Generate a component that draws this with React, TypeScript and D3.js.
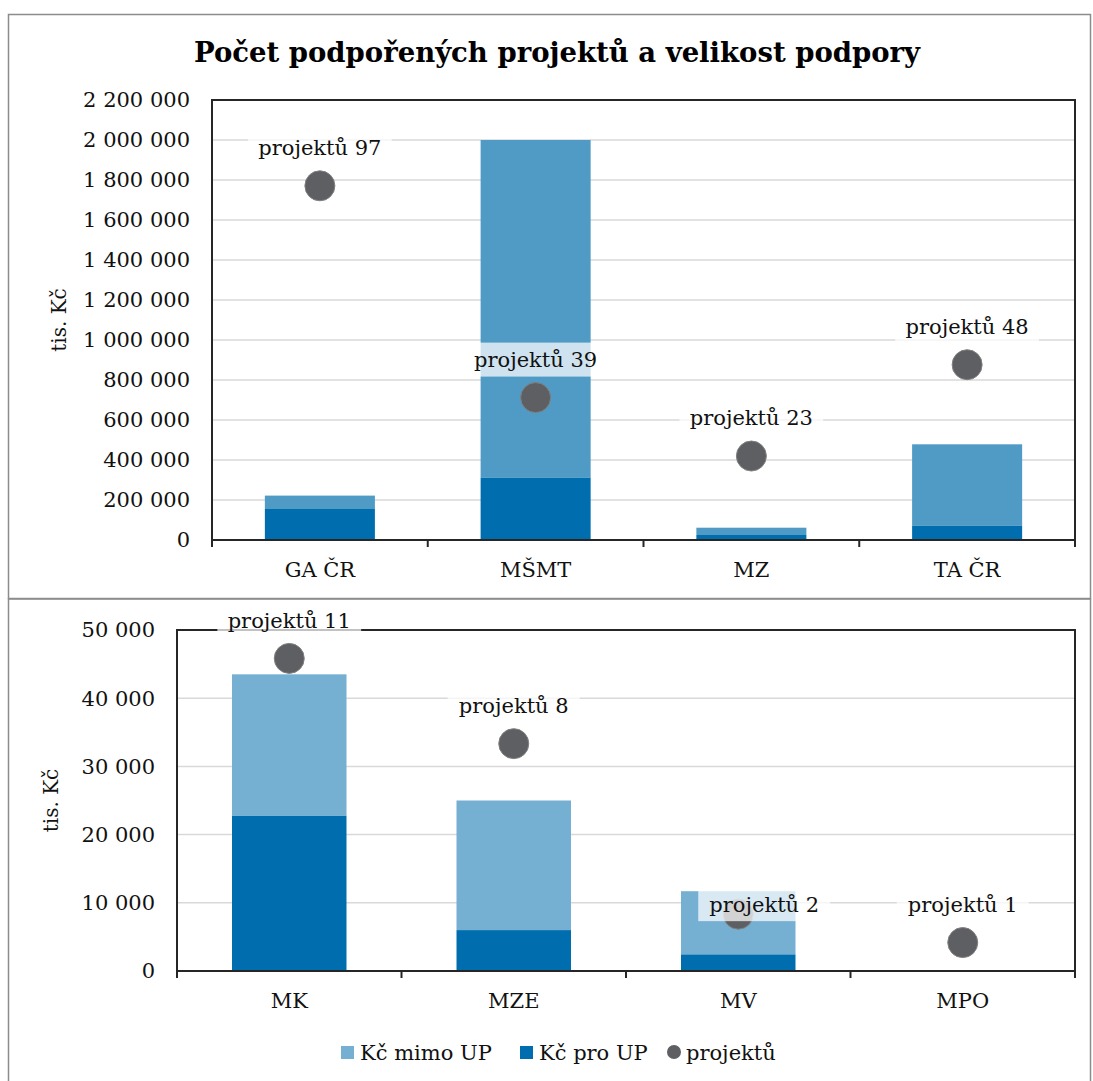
import React from "react";
import * as d3 from "d3";

const topCategories = ["GA ČR", "MŠMT", "MZ", "TA ČR"];
const topProUP = [155000, 313000, 25000, 73000];
const topMimoUP = [67000, 1687000, 36500, 405500];
const topProjects = [97, 39, 23, 48];
const topTicks = [0, 200000, 400000, 600000, 800000, 1000000, 1200000, 1400000, 1600000, 1800000, 2000000, 2200000];

const botCategories = ["MK", "MZE", "MV", "MPO"];
const botProUP = [22800, 6000, 2450, 0];
const botMimoUP = [20700, 19000, 9250, 0];
const botProjects = [11, 8, 2, 1];
const botTicks = [0, 10000, 20000, 30000, 40000, 50000];
const botLabelShift = [[0, 0], [0, 0], [26, 28], [0, 0]];

const FONT = "'DejaVu Serif', Georgia, serif";
const C_PRO = "#006eae";
const C_MIMO_TOP = "#4f9bc6";
const C_MIMO_BOT = "#75afd2";
const C_DOT = "#5e5f62";

const fmt = (v: number) => d3.format(",")(v).replace(/,/g, " ");

type PanelProps = {
  cats: string[];
  pro: number[];
  mimo: number[];
  proj: number[];
  ticks: number[];
  yMax: number;
  pMax: number;
  left: number;
  right: number;
  top: number;
  bottom: number;
  tickRight: number;
  titleX: number;
  mimoColor: string;
  shifts?: number[][];
};

function Panel(p: PanelProps) {
  const x = d3.scaleBand<string>().domain(p.cats).range([p.left, p.right]).paddingInner(0.49).paddingOuter(0.245);
  const y = d3.scaleLinear().domain([0, p.yMax]).range([p.bottom, p.top]);
  const y2 = d3.scaleLinear().domain([0, p.pMax]).range([p.bottom, p.top]);
  const step = x.step();
  const bounds = d3.range(p.cats.length + 1).map((i) => p.left + i * step);
  const bw = x.bandwidth();
  return (
    <g>
      {p.ticks.filter((t) => t > 0).map((t) => (
        <line key={"g" + t} x1={p.left} x2={p.right} y1={y(t)} y2={y(t)} stroke="#d9d9d9" strokeWidth={1.5} />
      ))}
      {p.cats.map((c, i) => (
        <g key={"b" + c}>
          <rect x={x(c)} width={bw} y={y(p.pro[i])} height={p.bottom - y(p.pro[i])} fill={C_PRO} />
          <rect x={x(c)} width={bw} y={y(p.pro[i] + p.mimo[i])} height={y(p.pro[i]) - y(p.pro[i] + p.mimo[i])} fill={p.mimoColor} />
        </g>
      ))}
      <rect x={p.left} y={p.top} width={p.right - p.left} height={p.bottom - p.top} fill="none" stroke="#262626" strokeWidth={2} />
      {bounds.map((b, i) => (
        <line key={"t" + i} x1={b} x2={b} y1={p.bottom} y2={p.bottom + 7} stroke="#262626" strokeWidth={2} />
      ))}
      {p.ticks.map((t) => (
        <text key={"yl" + t} x={p.tickRight} y={y(t)} dy="0.35em" textAnchor="end" fontFamily={FONT} fontSize={21} fill="#111">
          {fmt(t)}
        </text>
      ))}
      <text transform={`translate(${p.titleX},${(p.top + p.bottom) / 2}) rotate(-90)`} textAnchor="middle" fontFamily={FONT} fontSize={20} fill="#111">
        tis. Kč
      </text>
      {p.cats.map((c) => (
        <text key={"xl" + c} x={(x(c) as number) + bw / 2} y={p.bottom + 37} textAnchor="middle" fontFamily={FONT} fontSize={21} fill="#111">
          {c}
        </text>
      ))}
      {p.cats.map((c, i) => {
        const cx = (x(c) as number) + bw / 2;
        const cy = y2(p.proj[i]);
        return <circle key={"d" + c} cx={cx} cy={cy} r={15} fill={C_DOT} stroke="#808080" strokeWidth={1} />;
      })}
      {p.cats.map((c, i) => {
        const sh = p.shifts ? p.shifts[i] : [0, 0];
        const cx = (x(c) as number) + bw / 2 + sh[0];
        const cy = y2(p.proj[i]) - 38 + sh[1];
        const label = "projektů " + p.proj[i];
        const w = label.length * 11.8 + 14;
        return (
          <g key={"l" + c}>
            <rect x={cx - w / 2} y={cy - 17} width={w} height={34} fill="#fff" fillOpacity={0.72} />
            <text x={cx} y={cy} dy="0.35em" textAnchor="middle" fontFamily={FONT} fontSize={21} fill="#111">
              {label}
            </text>
          </g>
        );
      })}
    </g>
  );
}

export default function App() {
  const legend = [
    { label: "Kč mimo UP", kind: "rect", color: C_MIMO_BOT, x: 341 },
    { label: "Kč pro UP", kind: "rect", color: C_PRO, x: 520 },
    { label: "projektů", kind: "dot", color: C_DOT, x: 667 },
  ];
  return (
    <svg width={1093} height={1081} style={{ position: "absolute", left: 0, top: 0, background: "#fff" }}>
      <rect x={0} y={0} width={1093} height={1081} fill="#fff" />
      <rect x={8.5} y={14.5} width={1082} height={584} fill="none" stroke="#8c8c8c" strokeWidth={1.5} />
      <rect x={8.5} y={599} width={1082} height={500} fill="none" stroke="#8c8c8c" strokeWidth={1.5} />
      <text x={557} y={62} textAnchor="middle" fontFamily={FONT} fontWeight="bold" fontSize={27.5} fill="#000">
        Počet podpořených projektů a velikost podpory
      </text>
      <Panel cats={topCategories} pro={topProUP} mimo={topMimoUP} proj={topProjects} ticks={topTicks}
        yMax={2200000} pMax={120.5} left={212} right={1075} top={100} bottom={540} tickRight={190} titleX={66} mimoColor={C_MIMO_TOP} />
      <Panel cats={botCategories} pro={botProUP} mimo={botMimoUP} proj={botProjects} ticks={botTicks}
        yMax={50000} pMax={12} left={177} right={1075} top={630} bottom={971} tickRight={155} titleX={58} mimoColor={C_MIMO_BOT} shifts={botLabelShift} />
      {legend.map((l) => (
        <g key={l.label}>
          {l.kind === "rect" ? (
            <rect x={l.x} y={1046} width={13} height={13} fill={l.color} />
          ) : (
            <circle cx={l.x + 7} cy={1052} r={7} fill={l.color} />
          )}
          <text x={l.x + 19} y={1060} fontFamily={FONT} fontSize={21} fill="#111">
            {l.label}
          </text>
        </g>
      ))}
    </svg>
  );
}
